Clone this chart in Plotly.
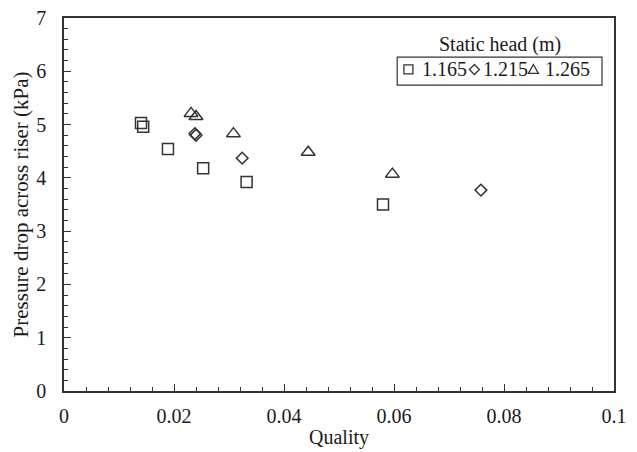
import plotly.graph_objects as go

# ---- data ----
series_names = ["1.165", "1.215", "1.265"]

q_1165 = [0.0140, 0.0144, 0.0189, 0.0253, 0.0332, 0.0580]
dp_1165 = [5.03, 4.96, 4.54, 4.18, 3.92, 3.50]

q_1215 = [0.0238, 0.0240, 0.0324, 0.0758]
dp_1215 = [4.83, 4.80, 4.37, 3.77]

q_1265 = [0.0231, 0.0240, 0.0308, 0.0444, 0.0597]
dp_1265 = [5.21, 5.15, 4.83, 4.48, 4.07]

x_tickvals = [0, 0.02, 0.04, 0.06, 0.08, 0.1]
x_ticktext = ["0", "0.02", "0.04", "0.06", "0.08", "0.1"]
y_tickvals = [0, 1, 2, 3, 4, 5, 6, 7]
y_ticktext = ["0", "1", "2", "3", "4", "5", "6", "7"]

FONT = "Liberation Serif"
INK = "#333333"
TEXT = "#1a1a1a"

fig = go.Figure()
series = [
    (q_1165, dp_1165, "square-open", 11),
    (q_1215, dp_1215, "diamond-open", 9),
    (q_1265, dp_1265, "triangle-up-open", 12),
]
for name, (xs, ys, sym, sz) in zip(series_names, series):
    fig.add_trace(go.Scatter(
        x=xs, y=ys, mode="markers", name=name, showlegend=False,
        marker=dict(symbol=sym, size=sz, color=INK, line=dict(width=1.5, color=INK)),
    ))

axis_common = dict(
    showgrid=False, zeroline=False, showline=True, linecolor=INK, linewidth=1.5,
    mirror=True, ticks="inside", tickcolor=INK, tickwidth=1.2, ticklen=7,
    tickfont=dict(family=FONT, size=20, color=TEXT),
)
fig.update_xaxes(
    range=[0, 0.1], tickvals=x_tickvals, ticktext=x_ticktext,
    minor=dict(ticks="inside", dtick=0.004, ticklen=4, tickcolor=INK, tickwidth=1.2),
    title=dict(text="Quality", font=dict(family=FONT, size=20, color=TEXT), standoff=4),
    ticklabelstandoff=6,
    **axis_common,
)
fig.update_yaxes(
    range=[0, 7], tickvals=y_tickvals, ticktext=y_ticktext,
    minor=dict(ticks="inside", dtick=0.2, ticklen=4, tickcolor=INK, tickwidth=1.2),
    title=dict(text="Pressure drop across riser (kPa)", font=dict(family=FONT, size=21, color=TEXT), standoff=2),
    ticklabelstandoff=12,
    **axis_common,
)

# ---- legend drawn as a framed key with title above it ----
key_y = 0.862
sym_x = [0.6262, 0.7462, 0.8534]
txt_x = [0.6464, 0.7584, 0.8716]
shapes = [
    dict(type="rect", xref="paper", yref="paper", x0=0.6058, x1=0.9782, y0=0.8200, y1=0.8949,
         line=dict(color=INK, width=1.2), fillcolor="white", layer="above"),
    dict(type="rect", xref="paper", yref="paper", xsizemode="pixel", ysizemode="pixel",
         xanchor=sym_x[0], yanchor=key_y, x0=-4.5, x1=4.5, y0=-4.5, y1=4.5,
         line=dict(color=INK, width=1.3), layer="above"),
    dict(type="path", xref="paper", yref="paper", xsizemode="pixel", ysizemode="pixel",
         xanchor=sym_x[1], yanchor=key_y, path="M0,-5L5,0L0,5L-5,0Z",
         line=dict(color=INK, width=1.3), layer="above"),
    dict(type="path", xref="paper", yref="paper", xsizemode="pixel", ysizemode="pixel",
         xanchor=sym_x[2], yanchor=key_y, path="M-5,-4L5,-4L0,5Z",
         line=dict(color=INK, width=1.3), layer="above"),
]
annotations = [
    dict(text="Static head (m)", x=0.7929, y=0.9297, xref="paper", yref="paper",
         showarrow=False, xanchor="center", yanchor="middle",
         font=dict(family=FONT, size=20, color=TEXT)),
]
for name, tx in zip(series_names, txt_x):
    annotations.append(dict(text=name, x=tx, y=key_y, xref="paper", yref="paper",
                            showarrow=False, xanchor="left", yanchor="middle",
                            font=dict(family=FONT, size=20, color=TEXT)))

fig.update_layout(
    width=637, height=452,
    margin=dict(l=63.5, r=23, t=17.7, b=60.5, autoexpand=False),
    paper_bgcolor="white", plot_bgcolor="white",
    shapes=shapes, annotations=annotations,
    showlegend=False,
)

fig.write_html("out.html")
